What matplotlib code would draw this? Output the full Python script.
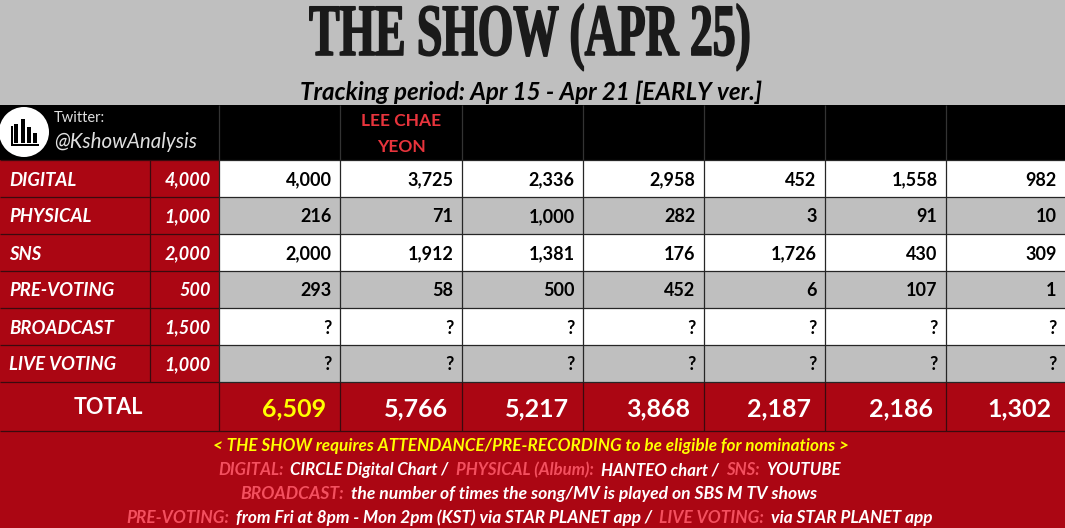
import matplotlib
matplotlib.use('Agg')
import matplotlib.pyplot as plt
from matplotlib.patches import Rectangle, Circle
from matplotlib.patheffects import AbstractPathEffect
from matplotlib.transforms import Affine2D

plt.rcParams['font.family'] = ['Lato', 'DejaVu Sans']

RED = '#ab0613'
GREY = '#bfbfbf'
PINK = '#f4505f'
YELLOW = '#ffff00'

categories = ['DIGITAL', 'PHYSICAL', 'SNS', 'PRE-VOTING', 'BROADCAST', 'LIVE VOTING']
max_points = ['4,000', '1,000', '2,000', '500', '1,500', '1,000']
digital = ['4,000', '3,725', '2,336', '2,958', '452', '1,558', '982']
physical = ['216', '71', '1,000', '282', '3', '91', '10']
sns = ['2,000', '1,912', '1,381', '176', '1,726', '430', '309']
pre_voting = ['293', '58', '500', '452', '6', '107', '1']
broadcast = ['?'] * 7
live_voting = ['?'] * 7
totals = ['6,509', '5,766', '5,217', '3,868', '2,187', '2,186', '1,302']
rows = [digital, physical, sns, pre_voting, broadcast, live_voting]

col_x = [219, 340, 462, 583, 704, 825, 946, 1065]
row_y = [160, 197, 234, 271, 308, 345, 382]

fig = plt.figure(figsize=(10.65, 5.28), dpi=100, facecolor=GREY)
ax = fig.add_axes([0, 0, 1, 1])
ax.set_xlim(0, 1065)
ax.set_ylim(528, 0)
ax.axis('off')


class SqueezeX(AbstractPathEffect):
    # narrows a text horizontally around a pixel column, the title font is very condensed
    def __init__(self, center, factor, stroke):
        super().__init__()
        self.center = center
        self.factor = factor
        self.stroke = stroke

    def draw_path(self, renderer, gc, tpath, affine, rgbFace=None):
        squeeze = Affine2D().translate(-self.center, 0).scale(self.factor, 1).translate(self.center, 0)
        gc0 = renderer.new_gc()
        gc0.copy_properties(gc)
        gc0.set_linewidth(self.stroke)
        gc0.set_foreground(rgbFace)
        renderer.draw_path(gc0, tpath, affine + squeeze, rgbFace)
        gc0.restore()


def box(x0, y0, x1, y1, color):
    ax.add_patch(Rectangle((x0, y0), x1 - x0, y1 - y0, facecolor=color, edgecolor='none'))


def line(x0, y0, x1, y1, color='#262626', lw=0.9):
    ax.plot([x0, x1], [y0, y1], color=color, lw=lw, solid_capstyle='butt')


# title
ax.text(530, 37, 'THE SHOW (APR 25)', ha='center', va='center', fontsize=53,
        family='Liberation Serif', weight='bold', color='#1a1a1a',
        path_effects=[SqueezeX(530, 0.62, 1.2)])
ax.text(531, 92, 'Tracking period: Apr 15 - Apr 21 [EARLY ver.]', ha='center', va='center',
        fontsize=17.4, style='italic', weight='bold', color='black')

# header
box(0, 105, 1065, 160, 'black')
for x in col_x[:-1]:
    line(x, 105, x, 160, '#333333')
ax.add_patch(Circle((24, 132), 25, facecolor='white', edgecolor='none'))
for bx, bh, bw in [(14, 19, 3.5), (21, 24, 3.5), (27, 16, 3.5), (33, 10, 3.5)]:
    box(bx, 143 - bh, bx + bw, 143, 'black')
box(11, 144, 39, 146, 'black')
box(11, 126, 12.5, 146, 'black')
ax.text(54, 118, 'Twitter:', ha='left', va='center', fontsize=10.5, color='#e0e0e0')
ax.text(54, 142, '@KshowAnalysis', ha='left', va='center', fontsize=14.8, style='italic', color='#e0e0e0')
ax.text(401, 121, 'LEE CHAE', ha='center', va='center', fontsize=12.5, weight='bold', color='#e8343c')
ax.text(401, 147, 'YEON', ha='center', va='center', fontsize=12.5, weight='bold', color='#e8343c')

# table rows
for i, cat in enumerate(categories):
    y0, y1 = row_y[i], row_y[i + 1]
    ymid = (y0 + y1) / 2 + 1.5
    box(0, y0, 219, y1, RED)
    box(219, y0, 1065, y1, 'white' if i % 2 == 0 else GREY)
    ax.text(9, ymid, cat, ha='left', va='center', fontsize=13.3, style='italic', weight='bold', color='white')
    ax.text(211, ymid, max_points[i], ha='right', va='center', fontsize=13, style='italic', weight='bold', color='white')
    for j, val in enumerate(rows[i]):
        ax.text(col_x[j + 1] - 8.5, ymid, val, ha='right', va='center', fontsize=13, weight='bold', color='black')
for y in row_y:
    line(0, y, 219, y, '#3a0a0e')
    line(219, y, 1065, y, '#262626')
for x in col_x[:-1]:
    line(x, 160, x, 382)
line(150, 160, 150, 382, '#3a0a0e')

# total row
box(0, 382, 1065, 528, RED)
ax.text(108.5, 408, 'TOTAL', ha='center', va='center', fontsize=15.5, weight='bold', color='white')
for j, val in enumerate(totals):
    ax.text(col_x[j + 1] - 13.5, 409, val, ha='right', va='center', fontsize=18, weight='bold',
            color=YELLOW if j == 0 else 'white')
for x in col_x[:-1]:
    line(x, 382, x, 431, '#3a0a0e')
line(0, 431, 1065, 431, '#3a0a0e')


def colored_line(parts, x, y, size):
    # chain text pieces one after another, starting at pixel x
    renderer = fig.canvas.get_renderer()
    for txt, color in parts:
        t = ax.text(x, y, txt, ha='left', va='center', fontsize=size, style='italic', weight='bold', color=color)
        x = ax.transData.inverted().transform(t.get_window_extent(renderer))[1][0] + 7


colored_line([('< THE SHOW requires ATTENDANCE/PRE-RECORDING to be eligible for nominations >', YELLOW)], 213, 446, 12.3)
colored_line([('DIGITAL:', PINK), ('CIRCLE Digital Chart /', 'white'), ('PHYSICAL (Album):', PINK),
              ('HANTEO chart /', 'white'), ('SNS:', PINK), ('YOUTUBE', 'white')], 218, 470, 12.1)
colored_line([('BROADCAST:', PINK), ('the number of times the song/MV is played on SBS M TV shows', 'white')], 240, 494, 12.6)
colored_line([('PRE-VOTING:', PINK), ('from Fri at 8pm - Mon 2pm (KST) via STAR PLANET app /', 'white'),
              ('LIVE VOTING:', PINK), ('via STAR PLANET app', 'white')], 126, 518, 12.45)

fig.savefig('out.png', dpi=100, facecolor=GREY)
